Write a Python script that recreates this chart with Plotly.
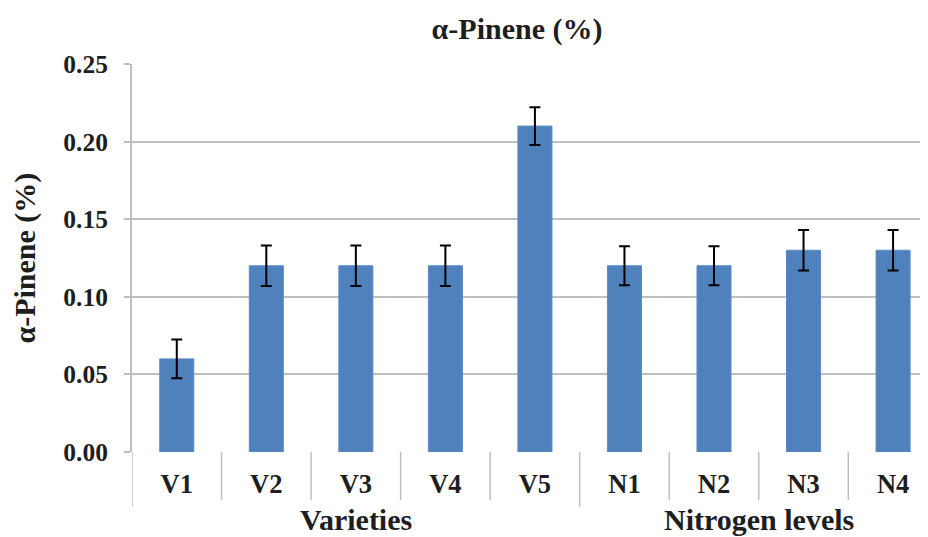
import plotly.graph_objects as go

categories = ["V1", "V2", "V3", "V4", "V5", "N1", "N2", "N3", "N4"]
values = [0.06, 0.12, 0.12, 0.12, 0.21, 0.12, 0.12, 0.13, 0.13]
errors = [0.0125, 0.013, 0.013, 0.013, 0.0122, 0.0125, 0.0125, 0.013, 0.013]
y_ticks = [0.00, 0.05, 0.10, 0.15, 0.20, 0.25]
groups = [("Varieties", 0, 4), ("Nitrogen levels", 5, 8)]
title_text = "α-Pinene (%)"

FONT = "Liberation Serif"
GRID = "#bfbfbf"
TXT = "#1e1e1e"
# page body has an 8px margin, so the figure is sized to end at the window edge
W, H = 920, 529
ML, MR, MT, MB = 124, 0, 56, 85

fig = go.Figure()
fig.add_trace(go.Bar(
    x=list(range(len(categories))), y=values,
    width=0.38,
    marker=dict(color="#4f81bd", line=dict(color="#5a8ac6", width=1)),
    error_y=dict(type="data", array=errors, visible=True,
                 color="black", thickness=2, width=5.5),
))

shapes = []
for i in range(len(categories) + 1):
    b = i - 0.5
    is_group_edge = any(b == g[1] - 0.5 for g in groups)
    shapes.append(dict(type="line", xref="x", yref="paper",
                       x0=b, x1=b, y0=0, y1=(-0.142 if is_group_edge else -0.124),
                       line=dict(color=GRID, width=1.5), layer="below"))

annotations = []
for name, a, b in groups:
    annotations.append(dict(text="<b>" + name + "</b>", xref="x", yref="paper",
                            x=(a + b) / 2, y=-0.174, yanchor="middle",
                            showarrow=False,
                            font=dict(family=FONT, size=30, color=TXT)))
annotations.append(dict(text="<b>" + title_text + "</b>", xref="paper", yref="paper",
                        x=-0.135, y=0.5, textangle=-90, showarrow=False,
                        xanchor="center", yanchor="middle",
                        font=dict(family=FONT, size=30, color=TXT)))

fig.update_layout(
    width=W, height=H,
    margin=dict(l=ML, r=MR, t=MT, b=MB, pad=0),
    paper_bgcolor="white", plot_bgcolor="white",
    showlegend=False,
    title=dict(text="<b>" + title_text + "</b>", x=0.4837, xref="paper",
               y=1 - 20 / H, yref="container", xanchor="center", yanchor="middle",
               font=dict(family=FONT, size=30, color=TXT)),
    shapes=shapes,
    annotations=annotations,
)

fig.update_xaxes(
    range=[-0.5, 8.39],
    tickmode="array", tickvals=list(range(len(categories))),
    ticktext=["<b>" + c + "</b>" for c in categories],
    tickfont=dict(family=FONT, size=26.5, color=TXT),
    ticks="", showgrid=False, zeroline=False,
    showline=False, ticklabelstandoff=13,
)
fig.update_yaxes(
    range=[0, 0.25],
    tickmode="array", tickvals=y_ticks,
    ticktext=["<b>%.2f</b>" % v for v in y_ticks],
    tickfont=dict(family=FONT, size=25.5, color=TXT),
    ticks="outside", ticklen=6, tickwidth=1.5, tickcolor=GRID,
    showgrid=True, gridcolor=GRID, gridwidth=1.5,
    showline=True, linecolor=GRID, linewidth=2,
    zeroline=False, ticklabelstandoff=11,
)

fig.write_html("out.html")
